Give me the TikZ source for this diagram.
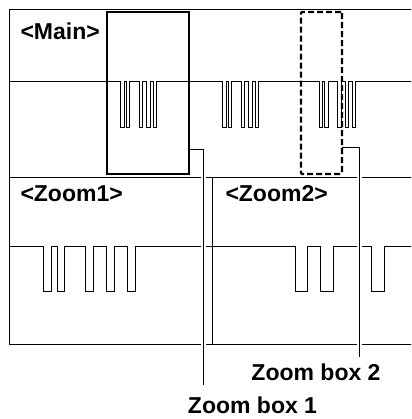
\documentclass[tikz,border=0pt]{standalone}
\usepackage{fontspec}
\setmainfont{Liberation Sans}
\begin{document}
\begin{tikzpicture}[x=1pt,y=-1pt,
  panel/.style={draw=black,line width=0.9pt},
  wave/.style={draw=black,line width=0.9pt},
  solidbox/.style={draw=black,line width=2pt,inner sep=0pt,outer sep=0pt},
  dashbox/.style={draw=black,line width=2.2pt,dash pattern=on 6pt off 3pt,rounded corners=1pt,inner sep=0pt,outer sep=0pt},
  conn/.style={draw=black,line width=0.9pt,preaction={draw=white,line width=4.5pt}},
  lbl/.style={font=\bfseries\fontsize{23}{27}\selectfont,inner sep=0pt,outer sep=0pt}]
\useasboundingbox (0,0) rectangle (411,419);
\begin{scope}
\clip (0,0) rectangle (411,419);
% panels
\draw[panel] (420,9) -- (9,9) -- (9,177) -- (420,177);
\draw[panel] (9,177) -- (9,344) -- (420,344);
\draw[panel] (212.7,177) -- (212.7,344);
% main waveform
\draw[wave] (9,81)
  \foreach \p in {120.7,126.2,139.2,146.7,153.5,222.7,228.2,241.2,248.7,255.5,319.3,324.8,337.8,345.3,352.1}
  { -- (\p,81) -- (\p,127) -- ({\p+3.3},127) -- ({\p+3.3},81) } -- (420,81);
% zoom waveforms
\draw[wave] (9,246)
  \foreach \p in {43.7,57.3,85.7,106.7,127.7}
  { -- (\p,246) -- (\p,291) -- ({\p+7.3},291) -- ({\p+7.3},246) }
  \foreach \p in {295,320.7,371.7}
  { -- (\p,246) -- (\p,291) -- ({\p+12.3},291) -- ({\p+12.3},246) } -- (420,246);
% connectors
\coordinate (c1s) at (189,149);
\coordinate (c1e) at (203.5,385);
\coordinate (c2s) at (342,147.5);
\coordinate (c2e) at (359.3,356.5);
\draw[conn] (c1s) -| (c1e);
\draw[conn] (c2s) -| (c2e);
\end{scope}
% zoom boxes
\node[solidbox,minimum width=82pt,minimum height=162pt] (zb1) at (148,93) {};
\node[dashbox,minimum width=41pt,minimum height=162pt] (zb2) at (321.5,93) {};
% labels
\node[lbl,anchor=base west] (tmain) at (20.5,40) {<Main>};
\node[lbl,anchor=base west] (tz1) at (20.5,202) {<Zoom1>};
\node[lbl,anchor=base west] (tz2) at (225.5,202) {<Zoom2>};
\node[lbl,anchor=base] (lb2) at (316,380) {Zoom box 2};
\node[lbl,anchor=base] (lb1) at (252.5,413) {Zoom box 1};
\end{tikzpicture}
\end{document}
